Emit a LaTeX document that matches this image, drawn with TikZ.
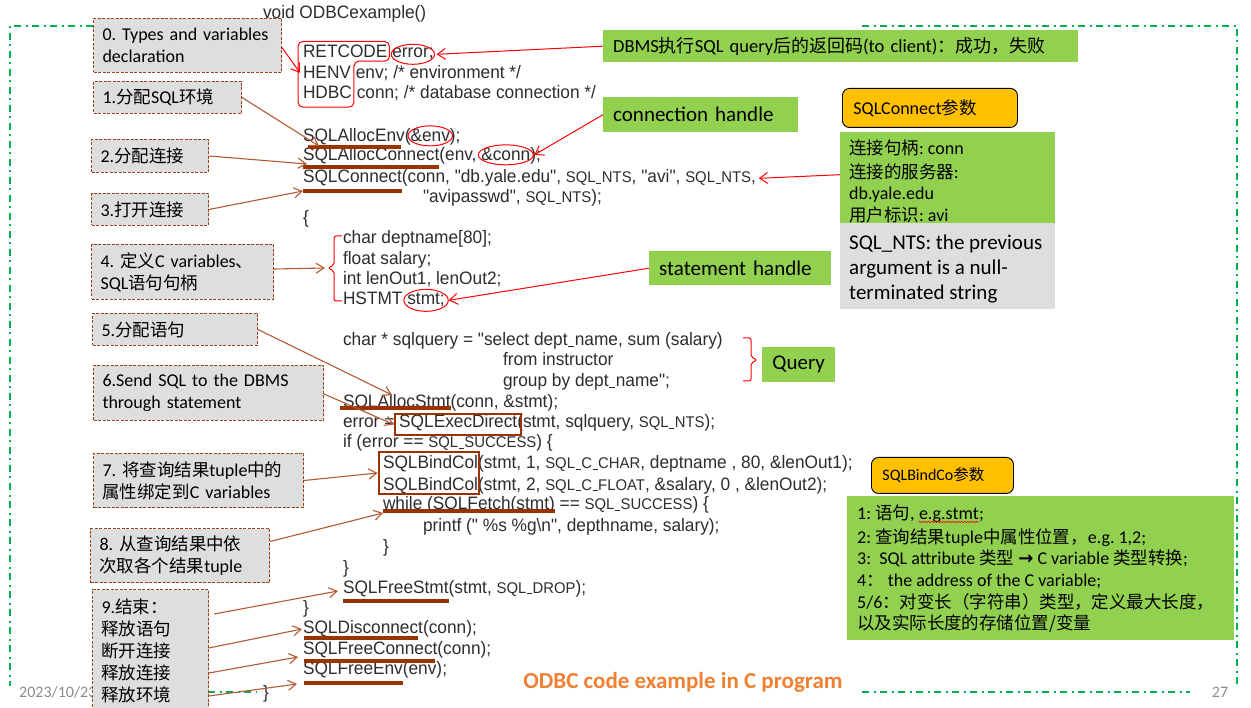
\documentclass[tikz,border=0pt]{standalone}
\usepackage{fontspec}
\setmainfont{Carlito}
\newfontfamily\codefont[FakeStretch=0.96]{Liberation Sans}
\newfontfamily\cjk[Scale=0.97]{Noto Sans CJK SC}
\newfontfamily\symf{DejaVu Sans}
\usetikzlibrary{calc,arrows.meta,fit,decorations.pathmorphing}
\frenchspacing

\definecolor{codegray}{RGB}{45,45,45}
\definecolor{ulbrown}{RGB}{153,51,0}
\definecolor{arbrown}{RGB}{180,90,50}
\definecolor{boxborder}{RGB}{150,70,30}
\definecolor{boxfill}{RGB}{222,222,222}
\definecolor{lgreen}{RGB}{146,208,80}
\definecolor{orangebox}{RGB}{255,192,0}
\definecolor{frameg}{RGB}{0,176,80}
\definecolor{titleor}{RGB}{240,128,50}
\definecolor{dategray}{RGB}{140,140,140}

\newcommand\zh[1]{{\cjk #1}}
\newcommand\us{\kern0.04em\rule[-0.06em]{0.32em}{0.07em}\kern0.04em}
\newcommand\cst[1]{{\fontsize{15.5}{18}\selectfont #1}}

\tikzset{
  code/.style={font=\codefont\fontsize{18}{20}\selectfont, text=codegray, inner sep=0pt, outer sep=0pt, anchor=base west},
  ulin/.style={draw=ulbrown, line width=3.2pt},
  hbox/.style={draw=ulbrown, line width=2.6pt, inner sep=0pt},
  lbox/.style={draw=boxborder, dash pattern=on 3pt off 1.5pt, line width=1pt, fill=boxfill,
    inner xsep=9pt, inner ysep=0pt, anchor=north west, align=left,
    font=\fontsize{18}{22}\selectfont, text=black},
  barrow/.style={draw=arbrown, line width=1.1pt, -{Straight Barb[length=8pt,width=10pt]}},
  rarrow/.style={draw=red, line width=1pt, -{Straight Barb[length=8pt,width=11pt]}},
  redl/.style={draw=red, line width=1pt},
  gbox/.style={fill=lgreen, inner xsep=10pt, inner ysep=0pt, anchor=north west, align=left, text=black},
  obox/.style={fill=orangebox, draw=black, line width=0.9pt, rounded corners=7pt, inner xsep=11pt,
    inner ysep=0pt, anchor=north west, align=left, text=black},
  txt/.style={inner sep=0pt, anchor=base west, text=black},
  frame/.style={draw=frameg, line width=2pt, dash pattern=on 7pt off 4.5pt on 2pt off 4.5pt},
}

\begin{document}
\begin{tikzpicture}[x=1pt,y=-1pt]
\fill[white] (0,0) rectangle (1251,708);
\useasboundingbox (0,0) rectangle (1251,708);

% green dash-dot frame (visible parts)
\draw[frame] (93,26) -- (10,26) -- (10,686);
\draw[frame] (862,26) -- (1237,26) -- (1237,687);
\draw[frame] (208,692) -- (257,692);
\draw[frame] (862,692) -- (1190,692);

% ---------------- code ----------------
\node[code] (l0) at (263,19) {void ODBCexample()};
\node[code] (rc) at (303,58) {RETCODE};
\node[code] (err) at ([xshift=4.8pt]rc.base east) {error;};
\node[code] (he) at (303,79) {HENV};
\node[code] (hel) at ([xshift=4.8pt]he.base east) {env; /* environment */};
\node[code] (hd) at (303,99) {HDBC};
\node[code] (hdl) at ([xshift=4.8pt]hd.base east) {conn; /* database connection */};
\node[code] (ae) at (303,142) {SQLAllocEnv};
\node[code] (ae2) at (ae.base east) {(};
\node[code] (aenv) at (ae2.base east) {\&env};
\node[code] (ae3) at (aenv.base east) {);};
\node[code] (ac) at (303,161) {SQLAllocConnect};
\node[code] (ac2) at (ac.base east) {(env,};
\node[code] (aconn) at ([xshift=4.8pt]ac2.base east) {\&conn};
\node[code] (ac3) at (aconn.base east) {);};
\node[code] (sc) at (303,183) {SQLConnect};
\node[code] (scr) at (sc.base east) {(conn, "db.yale.edu", \cst{SQL\us NTS}, "avi", \cst{SQL\us NTS},};
\node[code] (sc2) at (423,203) {"avipasswd", \cst{SQL\us NTS});};
\node[code] (ob) at (303,224) {\{};
\node[code] (d1) at (343,244) {char deptname[80];};
\node[code] (d2) at (343,265) {float salary;};
\node[code] (d3) at (343,285) {int lenOut1, lenOut2;};
\node[code] (hs) at (343,305) {HSTMT};
\node[code] (hst) at ([xshift=4.8pt]hs.base east) {stmt;};
\node[code] (q1) at (343,346) {char * sqlquery = "select dept\us name, sum (salary)};
\node[code] (q2) at (503,366) {from instructor};
\node[code] (q3) at (503,387) {group by dept\us name";};
\node[code] (as) at (343,408) {SQLAllocStmt};
\node[code] (as2) at (as.base east) {(conn, \&stmt);};
\node[code] (ex1) at (343,428) {error =};
\node[code] (ed) at ([xshift=4.8pt]ex1.base east) {SQLExecDirect(};
\node[code] (ed2) at (ed.base east) {stmt, sqlquery, \cst{SQL\us NTS});};
\node[code] (ifl) at (343,448) {if (error == \cst{SQL\us SUCCESS}) \{};
\node[code] (bc1) at (383,469) {SQLBindCol};
\node[code] (bc1r) at (bc1.base east) {(stmt, 1, \cst{SQL\us C\us CHAR}, deptname , 80, \&lenOut1);};
\node[code] (bc2) at (383,490) {SQLBindCol};
\node[code] (bc2r) at (bc2.base east) {(stmt, 2, \cst{SQL\us C\us FLOAT}, \&salary, 0 , \&lenOut2);};
\node[code] (wf) at (383,510) {while (SQLFetch(stmt)};
\node[code] (wf2) at ([xshift=4.8pt]wf.base east) {== \cst{SQL\us SUCCESS}) \{};
\node[code] (pf) at (423,531) {printf (" \%s \%g\textbackslash n", depthname, salary);};
\node[code] (cb1) at (383,552) {\}};
\node[code] (cb2) at (343,573) {\}};
\node[code] (fs) at (343,593) {SQLFreeStmt};
\node[code] (fs2) at (fs.base east) {(stmt, \cst{SQL\us DROP});};
\node[code] (cb3) at (303,613) {\}};
\node[code] (dc) at (303,633) {SQLDisconnect};
\node[code] (dc2) at (dc.base east) {(conn);};
\node[code] (fc) at (303,654) {SQLFreeConnect};
\node[code] (fc2) at (fc.base east) {(conn);};
\node[code] (fe) at (303,674) {SQLFreeEnv};
\node[code] (fe2) at (fe.base east) {(env);};
\node[code] (cb4) at (263,698) {\}};

% brown underlines
\draw[ulin] ([xshift=5pt,yshift=-5pt]ae.base west) -- ([xshift=-4pt,yshift=-5pt]ae.base east);
\draw[ulin] ([yshift=-6pt]ac.base west) -- ([yshift=-6pt]ac.base east);
\draw[ulin] ([yshift=-8pt]sc.base west) -- ([yshift=-8pt]sc.base east);
\draw[ulin] ([xshift=-3pt]as.base west) -- (as.base east);
\draw[ulin] ([yshift=-1pt]wf.base west) -- ([yshift=-1pt]wf.base east);
\draw[ulin] ([yshift=-8pt]fs.base west) -- ([yshift=-8pt]fs.base east);
\draw[ulin] ([xshift=1pt,yshift=-5pt]dc.base west) -- ([xshift=-5pt,yshift=-5pt]dc.base east);
\draw[ulin] ([xshift=1pt,yshift=-7pt]fc.base west) -- ([xshift=-2pt,yshift=-7pt]fc.base east);
\draw[ulin] ([xshift=1pt,yshift=-9pt]fe.base west) -- ([yshift=-9pt]fe.base east);

% brown boxes
\node[hbox, fit={([xshift=-4pt,yshift=14pt]ed.base west) ([xshift=-2pt,yshift=-7pt]ed.base east)}] (edbox) {};
\node[hbox, fit={([xshift=-4pt,yshift=17pt]bc1.base west) ([xshift=1pt,yshift=-4pt]bc2.base east)}] (bcbox) {};

% red marks
\draw[redl, rounded corners=5pt] let \p1=(rc.north west), \p2=(rc.south east), \p3=(hd.south east) in
  (\x1-5pt,\y1+4pt) -- (\x2+2pt,\y1+4pt) -- (\x2+2pt,\y2-3pt) -- (\x3+2pt,\y2-3pt)
  -- (\x3+2pt,\y3-8pt) -- (\x1-5pt,\y3-8pt) -- cycle;
\coordinate (polyL) at ([xshift=-3pt]he.west);
\draw[redl] let \p1=($(err.east)-(err.west)$) in (err.center) ellipse [x radius=0.5*\x1+1pt, y radius=10pt];
\draw[redl] let \p1=($(aenv.east)-(aenv.west)$) in (aenv.center) ellipse [x radius=0.5*\x1+2.5pt, y radius=10pt];
\draw[redl] let \p1=($(aconn.east)-(aconn.west)$) in (aconn.center) ellipse [x radius=0.5*\x1+3pt, y radius=10pt];
\draw[redl] let \p1=($(hst.east)-(hst.west)$) in (hst.center) ellipse [x radius=0.5*\x1+3.5pt, y radius=11pt];
\draw[redl, rounded corners=2pt] (342,236) -- (334,236) -- (334,265) -- (328,268) -- (334,271) -- (334,301) -- (342,301);
\coordinate (brk) at (325,268);
\draw[redl, rounded corners=2pt] (743,338) -- (751,338) -- (751,357) -- (757,360) -- (751,363) -- (751,381) -- (743,381);

% ---------------- right boxes ----------------
\node[gbox, minimum width=475pt, minimum height=32pt, text width=455pt, font=\fontsize{18.5}{22}\selectfont] (dbms) at (603,30)
  {DBMS\zh{执行}SQL query\zh{后的返回码}(to client)\zh{：成功，失败}};
\node[gbox, minimum width=195pt, minimum height=35pt, text width=175pt, font=\fontsize{21}{25}\selectfont] (ch) at (603,97) {connection handle};
\node[gbox, minimum width=182pt, minimum height=34pt, text width=162pt, font=\fontsize{21}{25}\selectfont] (sh) at (649,251) {statement handle};
\node[gbox, minimum width=73pt, minimum height=35pt, inner xsep=0pt, align=center, text width=73pt, font=\fontsize{21}{25}\selectfont] (qb) at (762,347) {Query};

\node[obox, minimum width=175pt, minimum height=39pt, text width=153pt, font=\fontsize{18}{22}\selectfont] (scp) at (842,88) {SQLConnect\zh{参数}};
\node[gbox, minimum width=215pt, minimum height=91pt] (gp) at (840,132) {};
\node[txt, font=\fontsize{18}{22}\selectfont] (gp1) at (849,154.5) {\zh{连接句柄}: conn};
\node[txt, font=\fontsize{18}{22}\selectfont] (gp2) at (849,178.5) {\zh{连接的服务器}:};
\node[txt, font=\fontsize{18}{22}\selectfont] (gp3) at (849,199.5) {db.yale.edu};
\node[txt, font=\fontsize{18}{22}\selectfont] (gp4) at (849,221.5) {\zh{用户标识}: avi};
\node[fill=boxfill, inner sep=0pt, anchor=north west, minimum width=215pt, minimum height=86pt] (gy) at (840,223) {};
\node[txt, font=\fontsize{21}{25}\selectfont] (gy1) at (849,249.5) {SQL\_NTS: the previous};
\node[txt, font=\fontsize{21}{25}\selectfont] (gy2) at (849,274.5) {argument is a null-};
\node[txt, font=\fontsize{21}{25}\selectfont] (gy3) at (849,299.5) {terminated string};

\node[obox, minimum width=142pt, minimum height=36pt, text width=120pt, font=\fontsize{16}{20}\selectfont] (sbp) at (871,457) {SQLBindCo\zh{参数}};
\node[gbox, minimum width=387pt, minimum height=144pt] (gb) at (847,496) {};
\node[txt, font=\fontsize{18}{22}\selectfont] (gb1) at (857,519.5) {1: \zh{语句},};
\node[txt, font=\fontsize{18}{22}\selectfont] (egs) at ([xshift=4pt]gb1.base east) {e.g.stmt};
\node[txt, font=\fontsize{18}{22}\selectfont] (gb1b) at (egs.base east) {;};
\draw[red, line width=0.6pt, decorate, decoration={snake, amplitude=0.8pt, segment length=3pt}]
  ([yshift=-2.5pt]egs.base west) -- ([yshift=-2.5pt]egs.base east);
\node[txt, font=\fontsize{18}{22}\selectfont] (gb2) at (857,543.5) {2: \zh{查询结果}tuple\zh{中属性位置，}e.g. 1,2;};
\node[txt, font=\fontsize{18}{22}\selectfont] (gb3) at (857,564.5) {3:\ \ SQL attribute \zh{类型} {\symf\bfseries →} C variable \zh{类型转换};};
\node[txt, font=\fontsize{18}{22}\selectfont] (gb4) at (857,586.5) {4\zh{：} the address of the C variable;};
\node[txt, font=\fontsize{18}{22}\selectfont] (gb5) at (857,608.5) {5/6\zh{：对变长（字符串）类型，定义最大长度，}};
\node[txt, font=\fontsize{18}{22}\selectfont] (gb6) at (857,629.5) {\zh{以及实际长度的存储位置/变量}};

% red arrows
\draw[rarrow] (dbms.west) -- ([xshift=3pt]err.east);
\draw[rarrow] (ch.west) -- ([xshift=4pt]aconn.east);
\draw[rarrow] ($(gp.west)+(0,-3)$) -- ([xshift=3pt]scr.east);
\draw[rarrow] (sh.west) -- ([xshift=4pt]hst.east);

% date and page number
\node[txt, font=\fontsize{16}{19}\selectfont, text=dategray] (date) at (19,697.5) {2023/10/23};
\node[inner sep=0pt, anchor=base, font=\fontsize{16}{19}\selectfont, text=dategray] (pg) at (1220,697.5) {27};
\node[inner sep=0pt, font=\fontsize{23}{27}\selectfont\bfseries, text=titleor] (title) at (683,682) {ODBC code example in C program};

% ---------------- left boxes ----------------
\node[lbox, minimum height=54pt, text width=170pt] (b0) at (93,18) {\mbox{0. Types and variables}\\declaration};
\node[lbox, minimum height=32pt, text width=130pt] (b1) at (93,81) {1.\zh{分配}SQL\zh{环境}};
\node[lbox, minimum height=33pt, text width=99pt] (b2) at (91,139) {2.\zh{分配连接}};
\node[lbox, minimum height=32pt, text width=99pt] (b3) at (91,193) {3.\zh{打开连接}};
\node[lbox, minimum height=55pt, text width=164pt] (b4) at (91,244) {\mbox{4.~\zh{定义}C variables\zh{、}}\\SQL\zh{语句句柄}};
\node[lbox, minimum height=32pt, text width=147pt] (b5) at (92,313) {5.\zh{分配语句}};
\node[lbox, minimum height=55pt, text width=212pt] (b6) at (93,365) {\mbox{6.Send SQL to the DBMS}\\through statement};
\node[lbox, minimum height=54pt, text width=192pt] (b7) at (93,453) {\mbox{7.~\zh{将查询结果}tuple\zh{中的}}\\\mbox{\zh{属性绑定到}C variables}};
\node[lbox, minimum height=54pt, text width=161pt] (b8) at (90,528) {\mbox{8.~\zh{从查询结果中依}}\\\mbox{\zh{次取各个结果}tuple}};
\node[lbox, minimum height=122pt, text width=98pt] (b9) at (92,589) {9.\zh{结束：}\\\zh{释放语句}\\\zh{断开连接}\\\zh{释放连接}\\\zh{释放环境}};

% arrows from the boxes
\draw[rarrow] ([yshift=-2pt]b0.east) -- (polyL);
\draw[barrow] (b1.east) -- ([xshift=16pt,yshift=-4pt]ae.base west);
\draw[barrow] (b2.east) -- ([xshift=4pt,yshift=-3pt]ac.base west);
\draw[barrow] (b3.east) -- ([yshift=-8pt]sc.base west);
\draw[barrow] ([yshift=3pt]b4.east) -- (brk);
\draw[barrow] (b5.east) -- ([xshift=49pt,yshift=13pt]as.base west);
\draw[barrow] ([yshift=-1pt]b6.east) -- (edbox.west);
\draw[barrow] (b7.east) -- (bcbox.west);
\draw[barrow] ($(b8.east)+(0,-14)$) -- ([yshift=-3pt]wf.base west);
\draw[barrow] ($(b9.north east)+(5,25)$) -- ($(fs.base west)+(-5,-2)$);
\draw[barrow] ($(b9.north east)+(0,59)$) -- ($(dc.base west)+(-1,-4)$);
\draw[barrow] ($(b9.north east)+(0,84)$) -- ($(fc.base west)+(-5,3)$);
\draw[barrow] ($(b9.north east)+(0,107)$) -- ($(fe.base west)+(-6,10)$);
\end{tikzpicture}
\end{document}
